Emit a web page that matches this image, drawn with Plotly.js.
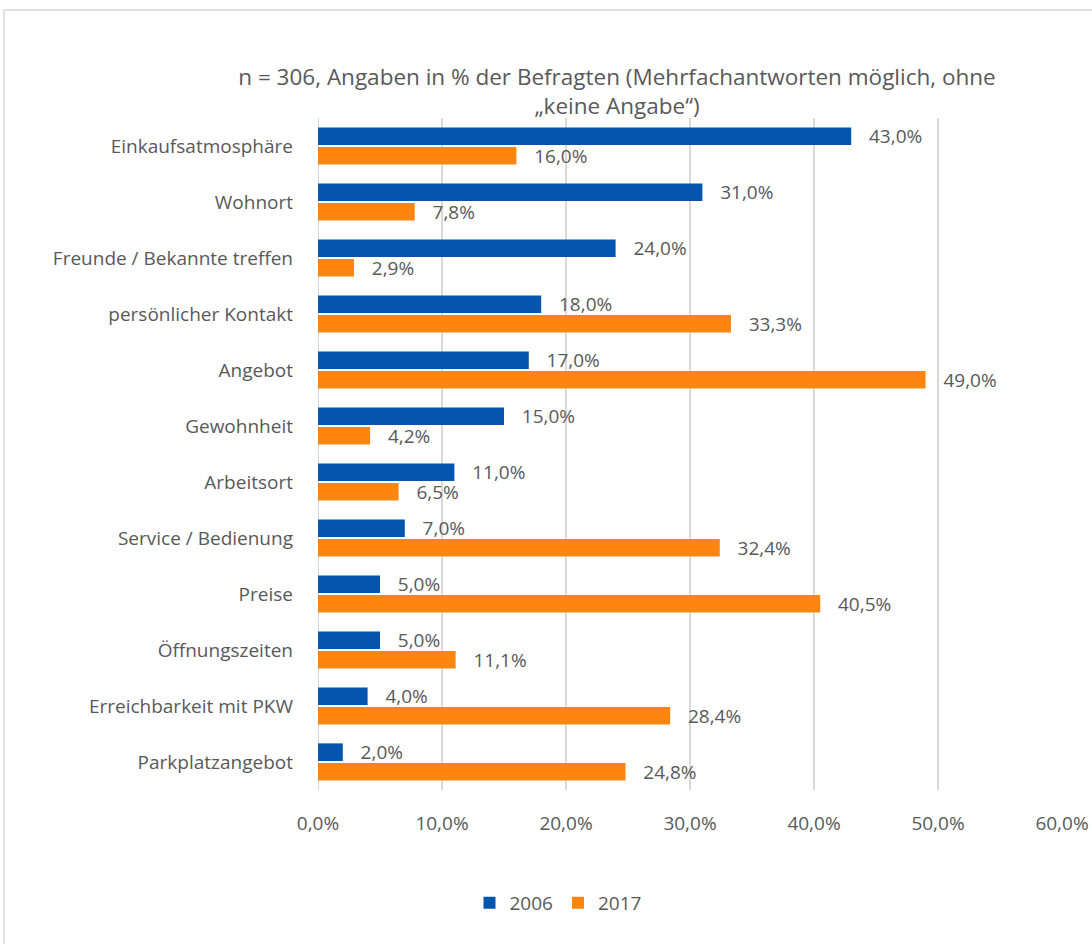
<!DOCTYPE html>
<html><head><meta charset="utf-8">
<script src="https://cdn.plot.ly/plotly-3.0.1.min.js"></script>
<style>html,body{margin:0;padding:0;background:#fff;}#chart{width:1092px;height:944px;}</style>
</head><body><div id="chart"></div>
<script>
const categories = ["Einkaufsatmosphäre","Wohnort","Freunde / Bekannte treffen","persönlicher Kontakt","Angebot","Gewohnheit","Arbeitsort","Service / Bedienung","Preise","Öffnungszeiten","Erreichbarkeit mit PKW","Parkplatzangebot"];
const values2006 = [43.0,31.0,24.0,18.0,17.0,15.0,11.0,7.0,5.0,5.0,4.0,2.0];
const values2017 = [16.0,7.8,2.9,33.3,49.0,4.2,6.5,32.4,40.5,11.1,28.4,24.8];
const seriesNames = ["2006","2017"];
const xTicks = [0,10,20,30,40,50,60];
const titleText = "n = 306, Angaben in % der Befragten (Mehrfachantworten möglich, ohne<br>„keine Angabe“)";

const FONT = "Open Sans, Liberation Sans, sans-serif";
const GREY = "#595959";
function mk(name, vals, color){
  return {type:"bar", orientation:"h", name:name, y:categories, x:vals,
    marker:{color:color},
    text: vals.map(v => "\u00a0\u00a0\u00a0" + v.toFixed(1).replace(".", ",") + "%"),
    textposition:"outside", cliponaxis:false, constraintext:"none",
    textfont:{family:FONT,size:19,color:GREY}, hoverinfo:"skip"};
}
const data = [mk(seriesNames[0], values2006, "#0555AE"), mk(seriesNames[1], values2017, "#FF850F")];
const L=318, R=1062, T=118, B=790;
const W=R-L, H=B-T;
const px = p => (p-L)/W, py = p => (B-p)/H;
const layout = {
  width:1092, height:944,
  margin:{l:L, r:1092-R, t:T, b:944-B, pad:0},
  paper_bgcolor:"#fff", plot_bgcolor:"#fff",
  separators:",.",
  font:{family:FONT, color:GREY, size:19},
  barmode:"group", bargap:0.3, bargroupgap:0.1,
  title:{text:titleText, xref:"container", x:617/1092, xanchor:"center", yref:"container", y:1-85/944, yanchor:"middle",
    font:{family:FONT, size:22.5, color:GREY}},
  xaxis:{range:[0,60], tickvals:xTicks, ticktext:xTicks.map(v=>v.toFixed(1).replace(".",",")+"%"),
    showgrid:true, gridcolor:"#D9D9D9", gridwidth:2, zeroline:false, showline:false,
    ticks:"", ticklabelstandoff:20, tickfont:{family:FONT,size:19,color:GREY}, fixedrange:true},
  yaxis:{autorange:"reversed", showgrid:false, zeroline:false, showline:false, ticks:"",
    ticklabelstandoff:24, tickfont:{family:FONT,size:19,color:GREY}, fixedrange:true},
  showlegend:true,
  legend:{orientation:"h", x:px(558), xanchor:"center", y:py(903), yanchor:"middle",
    font:{family:FONT,size:19,color:GREY}, traceorder:"normal", itemwidth:30},
  shapes:[
    {type:"rect", xref:"paper", yref:"paper", x0:px(4), x1:px(1096), y0:py(10), y1:py(948),
     line:{color:"#D9D9D9", width:1.5}, fillcolor:"rgba(0,0,0,0)", layer:"below"},
    {type:"line", xref:"x", yref:"paper", x0:0, x1:0, y0:0, y1:1, line:{color:"#D9D9D9", width:2}, layer:"below"}
  ]
};
Plotly.newPlot("chart", data, layout, {staticPlot:true, displayModeBar:false});
</script></body></html>
